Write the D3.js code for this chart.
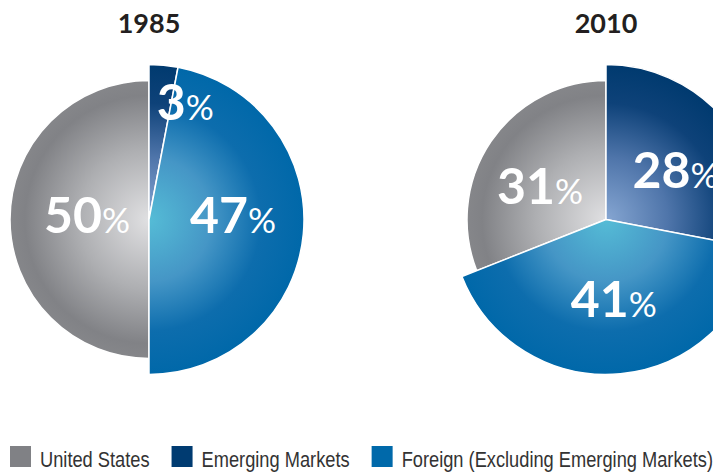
<!DOCTYPE html>
<html lang="en">
<head>
    <meta charset="UTF-8">
    <title>Pie Charts 1985 / 2010</title>
    <style>
        body { margin: 0; padding: 0; background: #ffffff; }
        svg { display: block; }
        .title { font-family: Lato, 'Open Sans', sans-serif; font-weight: 700; font-size: 27px; fill: #231f20; }
        .pct { font-family: Lato, 'Open Sans', sans-serif; fill: #ffffff; }
        .legend text { font-family: 'Liberation Sans', Arial, sans-serif; font-size: 22px; fill: #333333; }
    </style>
</head>
<body>
    <svg id="chart" width="713" height="473"></svg>

    <script src="https://d3js.org/d3.v7.min.js"></script>
    <script>
        // data
        var categories = ['United States', 'Emerging Markets', 'Foreign (Excluding Emerging Markets)'];
        var years = ['1985', '2010'];
        var values1985 = [50, 3, 47];
        var values2010 = [31, 28, 41];

        var series = [values1985, values2010];

        var svg = d3.select('#chart');

        // pie centres
        var xScale = d3.scalePoint().domain(years).range([149, 606]);
        var cy = 219.5;

        // US slice is drawn a bit smaller than the others
        var radius = d3.scaleOrdinal().domain(categories).range([139, 155, 155]);

        var defs = svg.append('defs');
        var gradStops = {
            'United States': [[0, '#e0e0e2'], [0.45, '#aeafb2'], [0.8, '#818286'], [1, '#8a8b8e']],
            'Emerging Markets': [[0, '#86a6d2'], [0.4, '#4f75aa'], [0.75, '#0e4279'], [1, '#003a6f']],
            'Foreign (Excluding Emerging Markets)': [[0, '#55bcd6'], [0.4, '#4596c6'], [0.72, '#0d6dad'], [1, '#0068a9']]
        };
        var legendColor = d3.scaleOrdinal().domain(categories).range(['#808185', '#003b71', '#0069aa']);

        // gradients sit in the translated pie group, so centre is 0,0
        categories.forEach(function(cat, ci) {
            var g = defs.append('radialGradient')
                .attr('id', 'grad' + ci)
                .attr('gradientUnits', 'userSpaceOnUse')
                .attr('cx', 0).attr('cy', 0)
                .attr('r', 155);
            gradStops[cat].forEach(function(s) {
                g.append('stop').attr('offset', s[0]).attr('stop-color', s[1]);
            });
        });

        // label nudges from the arc centroid
        var nudge = {
            '1985_0': [16, -3.5], '1985_1': [29, -39], '1985_2': [6.5, -11],
            '2010_0': [-1.5, 11], '2010_1': [9.5, 1], '2010_2': [0.5, 3]
        };

        years.forEach(function(yr, yi) {
            var vals = series[yi];
            var total = d3.sum(vals);
            var start = -2 * Math.PI * vals[0] / total;  // US slice ends at 12 o'clock
            var pie = d3.pie().sort(null).startAngle(start).endAngle(start + 2 * Math.PI);
            var arcs = pie(vals);

            var g = svg.append('g').attr('transform', 'translate(' + xScale(yr) + ',' + cy + ')');

            var arc = d3.arc().innerRadius(0).outerRadius(function(d) { return radius(categories[d.index]); });

            g.selectAll('path')
                .data(arcs)
                .enter()
                .append('path')
                .attr('d', arc)
                .attr('fill', function(d) { return 'url(#grad' + d.index + ')'; })
                .attr('stroke', '#ffffff')
                .attr('stroke-width', 1.5)
                .attr('stroke-linejoin', 'round');

            var labelArc = d3.arc().innerRadius(78).outerRadius(78);

            var lbl = g.selectAll('text.pct')
                .data(arcs)
                .enter()
                .append('text')
                .attr('class', 'pct')
                .attr('text-anchor', 'middle')
                .attr('transform', function(d) {
                    var c = labelArc.centroid(d);
                    var n = nudge[yr + '_' + d.index] || [0, 0];
                    return 'translate(' + (c[0] + n[0]) + ',' + (c[1] + n[1] + 17) + ')';
                });
            lbl.append('tspan').style('font-size', '50px').style('font-weight', 700).text(function(d) { return d.data; });
            lbl.append('tspan').style('font-size', '35px').style('font-weight', 400).text('%');

            svg.append('text')
                .attr('class', 'title')
                .attr('x', xScale(yr))
                .attr('y', 33)
                .attr('text-anchor', 'middle')
                .text(yr);
        });

        // legend (condensed look: squeeze the text horizontally)
        var legend = svg.append('g').attr('class', 'legend');
        var squeeze = 0.83;
        var lx = 10;
        categories.forEach(function(cat) {
            legend.append('rect')
                .attr('x', lx).attr('y', 446)
                .attr('width', 21).attr('height', 21)
                .attr('fill', legendColor(cat));
            var t = legend.append('text')
                .attr('transform', 'translate(' + (lx + 30) + ',467) scale(' + squeeze + ',1)')
                .text(cat);
            lx += 30 + t.node().getComputedTextLength() * squeeze + 22;
        });
    </script>
</body>
</html>
